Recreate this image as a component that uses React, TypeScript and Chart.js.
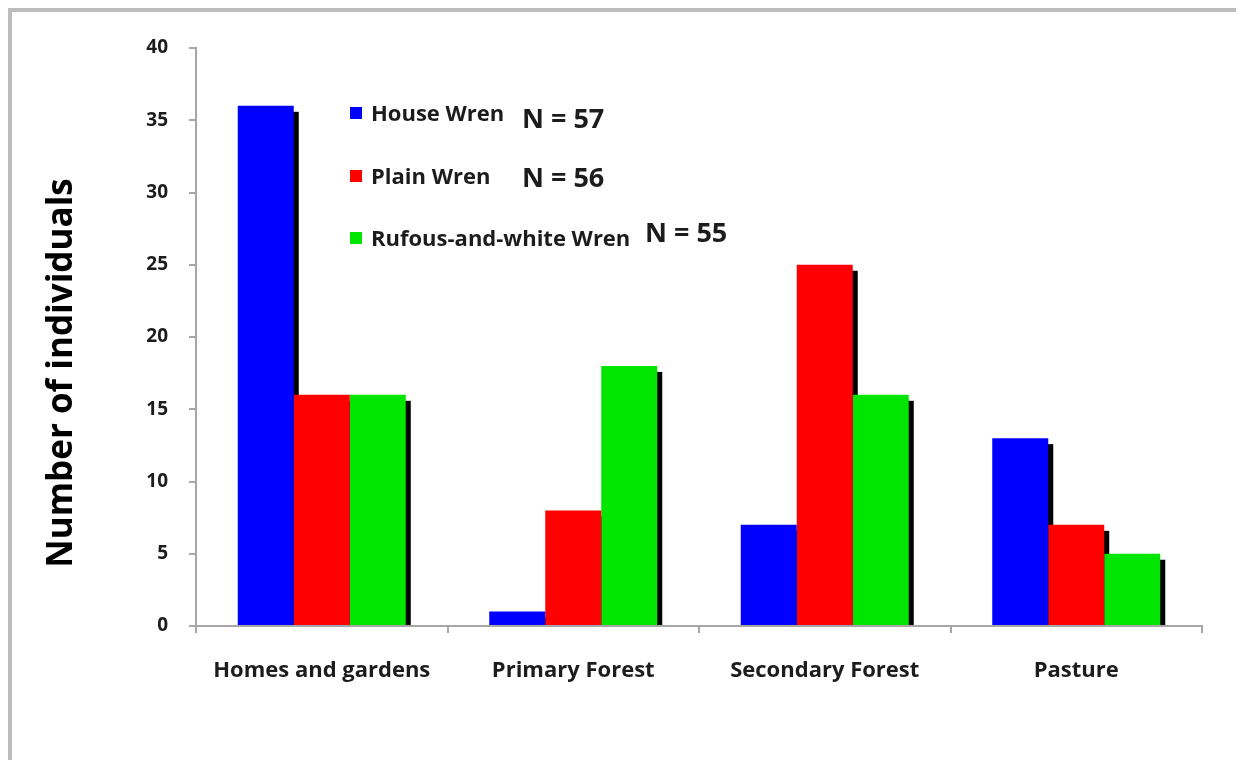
import { useEffect, useRef } from "react";
import { Chart, registerables } from "chart.js";

Chart.register(...registerables);

// Habitat categories on the x axis
const habitats = ["Homes and gardens", "Primary Forest", "Secondary Forest", "Pasture"];

// Individuals counted per habitat, one list per species
const speciesNames = ["House Wren", "Plain Wren", "Rufous-and-white Wren"];
const houseWren = [36, 1, 7, 13];
const plainWren = [16, 8, 25, 7];
const rufousWren = [16, 18, 16, 5];

// Total sample size per species, shown beside the key
const sampleSizes = [57, 56, 55];

const speciesColors = ["#0000ff", "#ff0000", "#00e600"];

const yTitle = "Number of individuals";
const yMax = 40;
const yStep = 5;

const FONT = "'Open Sans'";
const TEXT = "#1c1c1c";
const AXIS = "#a6a6a6";

// Hard black drop shadow behind every bar, painted before the bars themselves
const barShadow = {
  id: "barShadow",
  beforeDatasetsDraw(chart: any) {
    const { ctx } = chart;
    ctx.save();
    ctx.fillStyle = "#000000";
    chart.data.datasets.forEach((_: any, i: number) => {
      const meta = chart.getDatasetMeta(i);
      meta.data.forEach((bar: any) => {
        const { x, y, base, width } = bar.getProps(["x", "y", "base", "width"], true);
        const top = y + 6;
        const h = base - top;
        if (h > 0) ctx.fillRect(x - width / 2 + 5, top, width, h);
      });
    });
    ctx.restore();
  },
};

// Rotated y-axis title, set a little below the axis midpoint
const axisTitle = {
  id: "axisTitle",
  afterDraw(chart: any) {
    const { ctx } = chart;
    ctx.save();
    ctx.translate(60, 361);
    ctx.rotate(-Math.PI / 2);
    ctx.fillStyle = "#000000";
    ctx.font = `bold 35px ${FONT}`;
    ctx.textAlign = "center";
    ctx.textBaseline = "alphabetic";
    ctx.fillText(yTitle, 0, 0);
    ctx.restore();
  },
};

// Key inside the plot: colour square, species name and its N
const speciesKey = {
  id: "speciesKey",
  afterDraw(chart: any) {
    const { ctx } = chart;
    const rowY = [101, 164, 226];
    const nX = [510, 510, 633];
    const nY = [108, 167, 222];
    ctx.save();
    chart.data.datasets.forEach((ds: any, i: number) => {
      ctx.fillStyle = ds.backgroundColor;
      ctx.fillRect(338, rowY[i] - 6, 12, 12);
      ctx.fillStyle = TEXT;
      ctx.textBaseline = "middle";
      ctx.textAlign = "left";
      ctx.font = `bold 22px ${FONT}`;
      ctx.fillText(ds.label, 359, rowY[i] + 2);
      ctx.font = `bold 27px ${FONT}`;
      ctx.fillText(`N = ${sampleSizes[i]}`, nX[i], nY[i]);
    });
    ctx.restore();
  },
};

export default function App() {
  const canvasRef = useRef<HTMLCanvasElement | null>(null);

  useEffect(() => {
    const canvas = canvasRef.current;
    if (!canvas) return;
    const series = [houseWren, plainWren, rufousWren];
    const chart = new Chart(canvas, {
      type: "bar",
      data: {
        labels: habitats,
        datasets: series.map((values, i) => ({
          label: speciesNames[i],
          data: values,
          backgroundColor: speciesColors[i],
          borderWidth: 0,
          categoryPercentage: 0.668,
          barPercentage: 1.0,
        })),
      },
      options: {
        responsive: false,
        animation: false,
        devicePixelRatio: 1,
        layout: { padding: { left: 0, top: 36, right: 38, bottom: 0 } },
        plugins: {
          legend: { display: false },
          tooltip: { enabled: false },
        },
        scales: {
          x: {
            offset: true,
            grid: {
              offset: true,
              drawOnChartArea: false,
              drawTicks: true,
              tickLength: 7,
              color: AXIS,
              lineWidth: 2,
            },
            border: { color: AXIS, width: 2 },
            ticks: {
              color: TEXT,
              padding: 25,
              font: { family: FONT, size: 22, weight: "bold" },
              maxRotation: 0,
            },
            afterFit(scale: any) {
              scale.height = 134;
            },
          },
          y: {
            min: 0,
            max: yMax,
            grid: {
              drawOnChartArea: false,
              drawTicks: true,
              tickLength: 7,
              color: AXIS,
              lineWidth: 2,
            },
            border: { color: AXIS, width: 2 },
            ticks: {
              stepSize: yStep,
              color: TEXT,
              padding: 21,
              font: { family: FONT, size: 19, weight: "bold" },
            },
            afterFit(scale: any) {
              scale.width = 184;
            },
          },
        },
      },
      plugins: [barShadow, axisTitle, speciesKey],
    });
    return () => chart.destroy();
  }, []);

  return (
    <div
      style={{
        width: 1236,
        height: 752,
        border: "4px solid #bdbdbd",
        borderBottom: "none",
        boxSizing: "border-box",
        background: "#ffffff",
      }}
    >
      <canvas ref={canvasRef} width={1228} height={748} style={{ display: "block" }} />
    </div>
  );
}
